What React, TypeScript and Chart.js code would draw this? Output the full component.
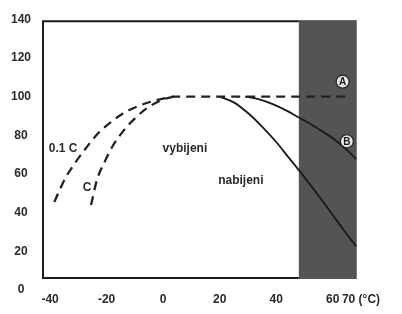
import React, { useEffect, useRef } from "react";
import { Chart, registerables } from "chart.js";

Chart.register(...registerables);

// Axis ticks
const xTicks = [-40, -20, 0, 20, 40, 60, 70];
const yTicks = [0, 20, 40, 60, 80, 100, 120, 140];
const xUnitLabel = "(°C)";

// Discharge curves (dashed): 0.1 C and C
const curve01C = [
  { x: -38.5, y: 45.5 }, { x: -34.7, y: 57.5 }, { x: -31.2, y: 65.6 }, { x: -27.6, y: 72.8 },
  { x: -23, y: 81 }, { x: -18.1, y: 87.2 }, { x: -14.2, y: 91.3 }, { x: -9.3, y: 94.8 },
  { x: -4.7, y: 97.2 }, { x: 0, y: 99 }, { x: 4, y: 100 }, { x: 65, y: 100 },
];
const curveC = [
  { x: -25.5, y: 44 }, { x: -23.4, y: 57 }, { x: -20.6, y: 66.5 }, { x: -18.1, y: 73.8 },
  { x: -14.2, y: 82 }, { x: -9.3, y: 89.7 }, { x: -4.7, y: 95 }, { x: 0, y: 98.5 }, { x: 4, y: 100 },
];
// Charge curves (solid): B and nabijeni
const curveB = [
  { x: 29, y: 100 }, { x: 34, y: 98.6 }, { x: 39, y: 96 }, { x: 44, y: 92.5 },
  { x: 48, y: 89.2 }, { x: 52, y: 86 }, { x: 56, y: 82.3 }, { x: 60, y: 78.5 },
  { x: 64, y: 73.8 }, { x: 68.3, y: 67.7 },
];
const curveNab = [
  { x: 20, y: 100 }, { x: 25, y: 97 }, { x: 30, y: 91.5 }, { x: 35, y: 84.5 },
  { x: 40, y: 76.5 }, { x: 44, y: 69.2 }, { x: 48, y: 62 }, { x: 52, y: 54.5 },
  { x: 56, y: 46.8 }, { x: 60, y: 38.8 }, { x: 64, y: 30.8 }, { x: 68.3, y: 22.5 },
];

// Frame and shaded region (data units)
const frameX = [-42.5, 68.5];
const frameY = [6.2, 139];
const shadeX = [48, 68.5];

// Text annotations
const textLabels = [
  { text: "0.1 C", x: -35.4, y: 73.3 },
  { text: "C", x: -26.9, y: 52.8 },
  { text: "vybijeni", x: 7.7, y: 73.3 },
  { text: "nabijeni", x: 27.5, y: 56.4 },
];
const circleLabels = [
  { text: "A", x: 63.5, y: 107.7 },
  { text: "B", x: 65, y: 76.9 },
];

const FONT = "'Liberation Sans', Arial, Helvetica, sans-serif";

const decorPlugin = {
  id: "decor",
  beforeDatasetsDraw(chart: any) {
    const { ctx, scales } = chart;
    const xs = scales.x, ys = scales.y;
    const l = xs.getPixelForValue(frameX[0]);
    const sl = xs.getPixelForValue(shadeX[0]);
    const sr = xs.getPixelForValue(shadeX[1]);
    const t = ys.getPixelForValue(frameY[1]);
    const b = ys.getPixelForValue(frameY[0]);
    ctx.save();
    ctx.fillStyle = "#545454";
    ctx.fillRect(sl, t - 1, sr - sl, b - t + 2);
    ctx.strokeStyle = "#1c1c1c";
    ctx.lineWidth = 2;
    ctx.beginPath();
    ctx.moveTo(sl, t);
    ctx.lineTo(l, t);
    ctx.lineTo(l, b);
    ctx.lineTo(sl, b);
    ctx.stroke();
    ctx.restore();
  },
  afterDatasetsDraw(chart: any) {
    const { ctx, scales } = chart;
    const xs = scales.x, ys = scales.y;
    ctx.save();
    ctx.textAlign = "center";
    ctx.textBaseline = "middle";
    ctx.font = `bold 12px ${FONT}`;
    ctx.fillStyle = "#2a2a2a";
    for (const tl of textLabels) {
      ctx.fillText(tl.text, xs.getPixelForValue(tl.x), ys.getPixelForValue(tl.y));
    }
    for (const c of circleLabels) {
      const px = xs.getPixelForValue(c.x);
      const py = ys.getPixelForValue(c.y);
      ctx.beginPath();
      ctx.arc(px, py, 6.5, 0, Math.PI * 2);
      ctx.fillStyle = "#e6e6e6";
      ctx.fill();
      ctx.lineWidth = 1.2;
      ctx.strokeStyle = "#222";
      ctx.stroke();
      ctx.fillStyle = "#222";
      ctx.font = `bold 10px ${FONT}`;
      ctx.fillText(c.text, px, py + 0.5);
    }
    ctx.restore();
  },
};

export default function App() {
  const ref = useRef<HTMLCanvasElement | null>(null);
  useEffect(() => {
    if (!ref.current) return;
    const dashStyle = {
      borderColor: "#222",
      borderWidth: 2.3,
      borderDash: [9, 6],
      pointRadius: 0,
      fill: false,
      cubicInterpolationMode: "monotone" as const,
    };
    const solidStyle = {
      borderColor: "#1a1a1a",
      borderWidth: 1.8,
      pointRadius: 0,
      fill: false,
      cubicInterpolationMode: "monotone" as const,
    };
    const chart = new Chart(ref.current, {
      type: "line",
      data: {
        datasets: [
          { label: "0.1 C", data: curve01C, ...dashStyle },
          { label: "C", data: curveC, ...dashStyle },
          { label: "B", data: curveB, ...solidStyle },
          { label: "nabijeni", data: curveNab, ...solidStyle },
        ],
      },
      options: {
        animation: false,
        responsive: false,
        maintainAspectRatio: false,
        layout: { padding: { left: 0, top: 17, right: 41, bottom: 0 } },
        plugins: { legend: { display: false }, tooltip: { enabled: false } },
        scales: {
          x: {
            type: "linear",
            min: -42.5,
            max: 70,
            grid: { display: false, drawTicks: false },
            border: { display: false },
            afterBuildTicks: (s: any) => { s.ticks = xTicks.map((v) => ({ value: v })); },
            afterFit: (s: any) => { s.height = 24; },
            ticks: {
              padding: 2,
              color: "#2a2a2a",
              font: { family: FONT, size: 12, weight: "bold" },
              maxRotation: 0,
              autoSkip: false,
              callback: (v: any) => (v === 70 ? `70 ${xUnitLabel}` : String(v)),
            },
          },
          y: {
            type: "linear",
            min: 0,
            max: 140,
            grid: { display: false, drawTicks: false },
            border: { display: false },
            afterBuildTicks: (s: any) => { s.ticks = yTicks.map((v) => ({ value: v })); },
            afterFit: (s: any) => { s.width = 43; },
            ticks: {
              padding: 12,
              crossAlign: "center",
              color: "#2a2a2a",
              font: { family: FONT, size: 12, weight: "bold" },
              autoSkip: false,
            },
          },
        },
      },
      plugins: [decorPlugin],
    });
    return () => chart.destroy();
  }, []);
  return (
    <div style={{ position: "absolute", left: 0, top: 0, width: 402, height: 314, background: "#fff" }}>
      <canvas ref={ref} width={402} height={314} style={{ display: "block" }} />
    </div>
  );
}
